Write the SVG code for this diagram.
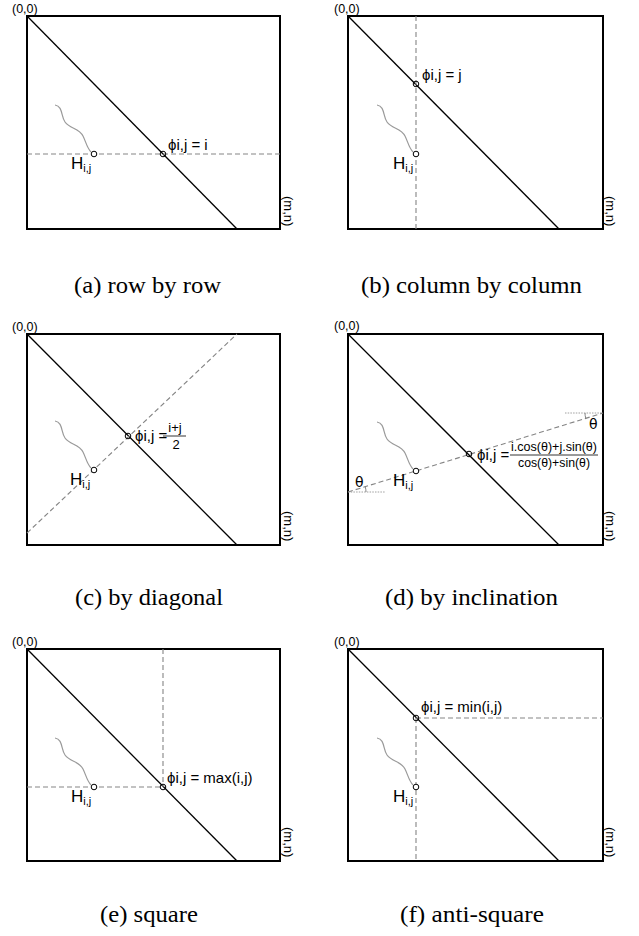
<svg xmlns="http://www.w3.org/2000/svg" xmlns:xlink="http://www.w3.org/1999/xlink" width="639" height="936" viewBox="0 0 639 936">
<style>
.frame{fill:none;stroke:#000;stroke-width:2}
.diag{stroke:#000;stroke-width:1.3;fill:none}
.dash{stroke:#858585;stroke-width:1.1;stroke-dasharray:5,3;fill:none}
.dot{stroke:#888;stroke-width:0.8;stroke-dasharray:1.5,1.2;fill:none}
.arc{stroke:#666;stroke-width:0.8;fill:none}
.wig{fill:none;stroke:#9a9a9a;stroke-width:1.2}
.pt{fill:#fff;stroke:#000;stroke-width:1}
.px{fill:none;stroke:#000;stroke-width:1}
.fl{stroke:#000;stroke-width:0.8}
.lbl{font-family:"Liberation Sans","DejaVu Sans",sans-serif;font-size:15px;fill:#000}
.frac{font-family:"Liberation Sans","DejaVu Sans",sans-serif;font-size:13px;fill:#000}
.corner{font-family:"Liberation Sans","DejaVu Sans",sans-serif;font-size:12.5px;fill:#000}
.mn{font-family:"Liberation Sans","DejaVu Sans",sans-serif;font-size:13px;fill:#000}
.h{font-family:"Liberation Sans","DejaVu Sans",sans-serif;font-size:17px;fill:#000}
.sub{font-size:11px}
.th{font-family:"DejaVu Sans",sans-serif;font-size:14px;fill:#000}
.cap{font-family:"Liberation Serif","DejaVu Serif",serif;font-size:23px;fill:#000}
</style>
<defs>
<path id="wig" class="wig" d="M-39,-49 C-31,-48 -33,-37 -29,-32 C-24,-25 -15,-26 -11,-18 C-8,-12 -7,-6 -3,-2"/>
</defs>

<g id="panel-a">
<rect class="frame" x="27" y="16" width="253" height="213"/>
<line class="diag" x1="27" y1="16" x2="237" y2="229"/>
<line class="dash" x1="27" y1="154" x2="280" y2="154"/>
<use xlink:href="#wig" transform="translate(94,154)"/>
<circle class="pt" cx="94" cy="154" r="2.8"/>
<circle class="px" cx="163" cy="154" r="2.8"/>
<text class="lbl" x="168" y="150">ϕi,j = i</text>
<text class="h" x="71" y="169">H<tspan class="sub" dy="3">i,j</tspan></text>
<text class="corner" x="12" y="13">(0,0)</text>
<text class="mn" transform="translate(284,196) rotate(90)">(m,n)</text>
<text class="cap" x="74" y="293" textLength="147" lengthAdjust="spacingAndGlyphs">(a) row by row</text>
</g>

<g id="panel-b">
<rect class="frame" x="348" y="16" width="255" height="213"/>
<line class="diag" x1="348" y1="16" x2="559" y2="229"/>
<line class="dash" x1="416" y1="16" x2="416" y2="229"/>
<use xlink:href="#wig" transform="translate(416,154)"/>
<circle class="pt" cx="416" cy="154" r="2.8"/>
<circle class="px" cx="416" cy="84" r="2.8"/>
<text class="lbl" x="422" y="80">ϕi,j = j</text>
<text class="h" x="393" y="169">H<tspan class="sub" dy="3">i,j</tspan></text>
<text class="corner" x="334" y="13">(0,0)</text>
<text class="mn" transform="translate(606,196) rotate(90)">(m,n)</text>
<text class="cap" x="361" y="293" textLength="221" lengthAdjust="spacingAndGlyphs">(b) column by column</text>
</g>

<g id="panel-c">
<rect class="frame" x="27" y="334" width="253" height="211"/>
<line class="diag" x1="27" y1="334" x2="237" y2="545"/>
<line class="dash" x1="27" y1="533" x2="237" y2="334"/>
<use xlink:href="#wig" transform="translate(94,470)"/>
<circle class="pt" cx="94" cy="470" r="2.8"/>
<circle class="px" cx="128" cy="436" r="2.8"/>
<text class="lbl" x="135" y="441">ϕi,j =</text>
<line class="fl" x1="163" y1="436" x2="186" y2="436"/>
<text class="frac" x="175" y="432" text-anchor="middle">i+j</text>
<text class="frac" x="176" y="449" text-anchor="middle">2</text>
<text class="h" x="70" y="485">H<tspan class="sub" dy="3">i,j</tspan></text>
<text class="corner" x="12" y="331">(0,0)</text>
<text class="mn" transform="translate(284,511) rotate(90)">(m,n)</text>
<text class="cap" x="75" y="605" textLength="148" lengthAdjust="spacingAndGlyphs">(c) by diagonal</text>
</g>

<g id="panel-d">
<rect class="frame" x="348" y="334" width="255" height="211"/>
<line class="diag" x1="348" y1="334" x2="559" y2="545"/>
<line class="dash" x1="348" y1="492" x2="603" y2="413"/>
<line class="dot" x1="348" y1="492" x2="385" y2="492"/>
<line class="dot" x1="565" y1="413" x2="603" y2="413"/>
<path class="arc" d="M366,492 A18,18 0 0 0 365.2,486.7"/>
<path class="arc" d="M585,413 A18,18 0 0 0 585.8,418.3"/>
<text class="th" x="355" y="487">θ</text>
<text class="th" x="589" y="429">θ</text>
<use xlink:href="#wig" transform="translate(416,471)"/>
<circle class="pt" cx="416" cy="471" r="2.8"/>
<circle class="px" cx="469" cy="454" r="2.8"/>
<text class="lbl" x="477" y="460">ϕi,j =</text>
<line class="fl" x1="510" y1="455" x2="598" y2="455"/>
<text class="frac" x="554" y="451" text-anchor="middle" textLength="86" lengthAdjust="spacingAndGlyphs">i.cos(θ)+j.sin(θ)</text>
<text class="frac" x="554" y="467" text-anchor="middle" textLength="72" lengthAdjust="spacingAndGlyphs">cos(θ)+sin(θ)</text>
<text class="h" x="393" y="486">H<tspan class="sub" dy="3">i,j</tspan></text>
<text class="corner" x="334" y="330">(0,0)</text>
<text class="mn" transform="translate(606,511) rotate(90)">(m,n)</text>
<text class="cap" x="385" y="605" textLength="173" lengthAdjust="spacingAndGlyphs">(d) by inclination</text>
</g>

<g id="panel-e">
<rect class="frame" x="27" y="649" width="253" height="212"/>
<line class="diag" x1="27" y1="649" x2="237" y2="861"/>
<line class="dash" x1="27" y1="787" x2="163" y2="787"/>
<line class="dash" x1="163" y1="649" x2="163" y2="787"/>
<use xlink:href="#wig" transform="translate(94,787)"/>
<circle class="pt" cx="94" cy="787" r="2.8"/>
<circle class="px" cx="163" cy="787" r="2.8"/>
<text class="lbl" x="167" y="783">ϕi,j = max(i,j)</text>
<text class="h" x="71" y="802">H<tspan class="sub" dy="3">i,j</tspan></text>
<text class="corner" x="12" y="646">(0,0)</text>
<text class="mn" transform="translate(284,827) rotate(90)">(m,n)</text>
<text class="cap" x="100" y="922" textLength="98" lengthAdjust="spacingAndGlyphs">(e) square</text>
</g>

<g id="panel-f">
<rect class="frame" x="348" y="649" width="255" height="212"/>
<line class="diag" x1="348" y1="649" x2="559" y2="861"/>
<line class="dash" x1="416" y1="718" x2="603" y2="718"/>
<line class="dash" x1="416" y1="718" x2="416" y2="861"/>
<use xlink:href="#wig" transform="translate(416,787)"/>
<circle class="pt" cx="416" cy="787" r="2.8"/>
<circle class="px" cx="416" cy="718" r="2.8"/>
<text class="lbl" x="421" y="712">ϕi,j = min(i,j)</text>
<text class="h" x="393" y="802">H<tspan class="sub" dy="3">i,j</tspan></text>
<text class="corner" x="334" y="646">(0,0)</text>
<text class="mn" transform="translate(606,827) rotate(90)">(m,n)</text>
<text class="cap" x="400" y="922" textLength="144" lengthAdjust="spacingAndGlyphs">(f) anti-square</text>
</g>
</svg>
